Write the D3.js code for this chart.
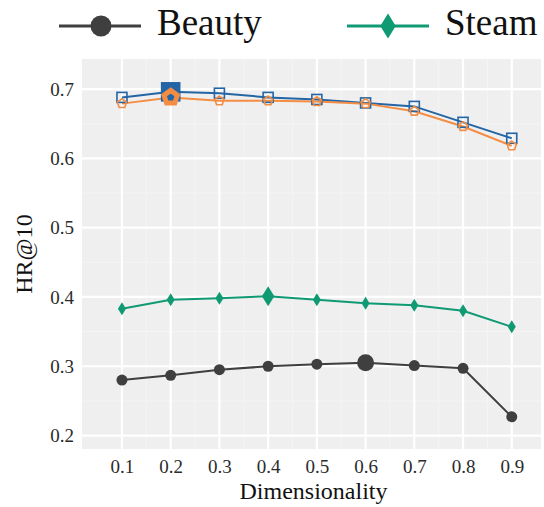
<!DOCTYPE html>
<html>
<head>
<meta charset="utf-8">
<script src="https://cdn.jsdelivr.net/npm/d3@7"></script>
<style>
  html, body { margin: 0; padding: 0; background: #fff; }
  svg { display: block; }
  svg text { font-family: "Liberation Serif", "DejaVu Serif", serif; }
</style>
</head>
<body>
<svg id="chart" width="544" height="507"></svg>
<script>
// Dimensionality ratios on the x axis
const dims = [0.1, 0.2, 0.3, 0.4, 0.5, 0.6, 0.7, 0.8, 0.9];
const yTicks = [0.2, 0.3, 0.4, 0.5, 0.6, 0.7];

// HR@10 per series
const beauty = [0.280, 0.287, 0.295, 0.300, 0.303, 0.305, 0.301, 0.297, 0.227];
const steam  = [0.383, 0.396, 0.398, 0.401, 0.396, 0.391, 0.388, 0.380, 0.357];
const blueSeries   = [0.688, 0.696, 0.694, 0.688, 0.685, 0.680, 0.675, 0.652, 0.629];
const orangeSeries = [0.679, 0.688, 0.683, 0.683, 0.682, 0.679, 0.668, 0.646, 0.618];

// index of the best point in each series
const bestBeauty = 5, bestSteam = 3, bestBlue = 1, bestOrange = 1;

const serif = "'Liberation Serif', 'DejaVu Serif', serif";
const svg = d3.select("#chart");
const panel = { left: 82, right: 541, top: 59, bottom: 449 };

const x = d3.scaleLinear().domain([0.018, 0.96]).range([panel.left, panel.right]);
const y = d3.scaleLinear().domain([0.1806, 0.7434]).range([panel.bottom, panel.top]);

// panel background
svg.append("rect")
  .attr("x", panel.left).attr("y", panel.top)
  .attr("width", panel.right - panel.left).attr("height", panel.bottom - panel.top)
  .attr("fill", "#efefef");

const grid = svg.append("g");
// minor grid
const minorX = dims.slice(0, -1).map(d => d + 0.05);
const minorY = yTicks.slice(0, -1).map(d => d + 0.05);
grid.selectAll(".mx").data(minorX).join("line")
  .attr("x1", d => x(d)).attr("x2", d => x(d))
  .attr("y1", panel.top).attr("y2", panel.bottom)
  .attr("stroke", "#f4f4f4").attr("stroke-width", 1);
grid.selectAll(".my").data(minorY).join("line")
  .attr("y1", d => y(d)).attr("y2", d => y(d))
  .attr("x1", panel.left).attr("x2", panel.right)
  .attr("stroke", "#f4f4f4").attr("stroke-width", 1);
// major grid
grid.selectAll(".gx").data(dims).join("line")
  .attr("x1", d => x(d)).attr("x2", d => x(d))
  .attr("y1", panel.top).attr("y2", panel.bottom)
  .attr("stroke", "#fff").attr("stroke-width", 2.2);
grid.selectAll(".gy").data(yTicks).join("line")
  .attr("y1", d => y(d)).attr("y2", d => y(d))
  .attr("x1", panel.left).attr("x2", panel.right)
  .attr("stroke", "#fff").attr("stroke-width", 2.2);

// axes
const xAxis = svg.append("g")
  .attr("transform", `translate(0,${panel.bottom})`)
  .call(d3.axisBottom(x).tickValues(dims).tickFormat(d3.format(".1f")).tickSize(0).tickPadding(11));
const yAxis = svg.append("g")
  .attr("transform", `translate(${panel.left},0)`)
  .call(d3.axisLeft(y).tickValues(yTicks).tickFormat(d3.format(".1f")).tickSize(0).tickPadding(8));
[xAxis, yAxis].forEach(a => {
  a.attr("font-family", null).attr("font-size", null);
  a.select(".domain").remove();
  a.selectAll("text")
    .style("font-family", serif)
    .style("font-size", "19px")
    .attr("fill", "#2b2b2b");
});

svg.append("text")
  .attr("x", (panel.left + panel.right) / 2 + 2).attr("y", 499)
  .attr("text-anchor", "middle")
  .style("font-family", serif).style("font-size", "24px")
  .attr("fill", "#111")
  .text("Dimensionality");
svg.append("text")
  .attr("transform", `translate(32,${(panel.top + panel.bottom) / 2}) rotate(-90)`)
  .attr("text-anchor", "middle")
  .style("font-family", serif).style("font-size", "24px")
  .attr("fill", "#111")
  .text("HR@10");

const line = d3.line().x((d, i) => x(dims[i])).y(d => y(d));

function drawLine(vals, color, w) {
  svg.append("path").datum(vals)
    .attr("d", line).attr("fill", "none")
    .attr("stroke", color).attr("stroke-width", w);
}

const cGrey = "#3f3f3f", cGreen = "#0f9a74", cBlue = "#2365a5", cOrange = "#f48d44";

drawLine(beauty, cGrey, 2);
drawLine(steam, cGreen, 2);
drawLine(blueSeries, cBlue, 2);
drawLine(orangeSeries, cOrange, 2);

const diamond = s => `M0,${-s}L${s * 0.62},0L0,${s}L${-s * 0.62},0Z`;

// Beauty: circles
svg.selectAll(".pb").data(beauty).join("circle")
  .attr("cx", (d, i) => x(dims[i])).attr("cy", d => y(d))
  .attr("r", (d, i) => i === bestBeauty ? 8.5 : 5.5)
  .attr("fill", cGrey);

// Steam: diamonds
svg.selectAll(".ps").data(steam).join("path")
  .attr("transform", (d, i) => `translate(${x(dims[i])},${y(d)})`)
  .attr("d", (d, i) => diamond(i === bestSteam ? 10 : 6.5))
  .attr("fill", cGreen);

// blue: hollow squares, best one filled
const sq = i => i === bestBlue ? 18 : 10;
svg.selectAll(".pbl").data(blueSeries).join("rect")
  .attr("x", (d, i) => x(dims[i]) - sq(i) / 2)
  .attr("y", (d, i) => y(d) - sq(i) / 2)
  .attr("width", (d, i) => sq(i))
  .attr("height", (d, i) => sq(i))
  .attr("fill", (d, i) => i === bestBlue ? cBlue : "none")
  .attr("stroke", cBlue).attr("stroke-width", 1.6);

// orange: hollow pentagons, best one thick
const pentagon = r => d3.range(5).map(k => {
  const a = -Math.PI / 2 + k * 2 * Math.PI / 5;
  return [r * Math.cos(a), r * Math.sin(a)];
});
svg.selectAll(".po").data(orangeSeries).join("path")
  .attr("transform", (d, i) => `translate(${x(dims[i])},${y(d)})`)
  .attr("d", (d, i) => "M" + pentagon(i === bestOrange ? 7 : 4.8).join("L") + "Z")
  .attr("fill", "none")
  .attr("stroke", cOrange)
  .attr("stroke-width", (d, i) => i === bestOrange ? 5 : 1.6);

// legend
const lg = svg.append("g");
const legendItems = [
  { name: "Beauty", color: cGrey, x0: 59, shape: "circle" },
  { name: "Steam", color: cGreen, x0: 347, shape: "diamond" }
];
legendItems.forEach(it => {
  lg.append("line").attr("x1", it.x0).attr("x2", it.x0 + 82)
    .attr("y1", 26).attr("y2", 26).attr("stroke", it.color).attr("stroke-width", 3);
  if (it.shape === "circle") {
    lg.append("circle").attr("cx", it.x0 + 42).attr("cy", 26).attr("r", 10.5).attr("fill", it.color);
  } else {
    lg.append("path").attr("transform", `translate(${it.x0 + 41},26)`)
      .attr("d", diamond(12.5)).attr("fill", it.color);
  }
  lg.append("text").attr("x", it.x0 + 98).attr("y", 35)
    .style("font-family", serif).style("font-size", "37px")
    .attr("fill", "#111").text(it.name);
});
</script>
</body>
</html>
